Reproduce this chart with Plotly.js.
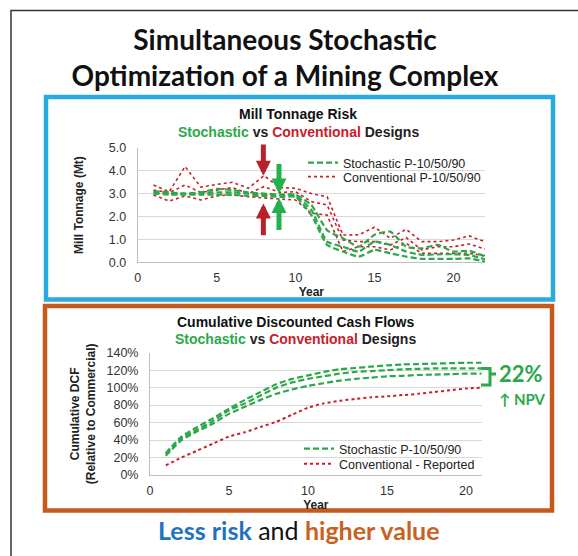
<!DOCTYPE html>
<html><head><meta charset="utf-8">
<script src="https://cdn.plot.ly/plotly-3.0.1.min.js"></script>
<style>html,body{margin:0;padding:0;background:#fff;} #chart{width:578px;height:556px;}</style>
</head><body><div id="chart"></div>
<script>
// ---------- Chart 1: Mill Tonnage Risk ----------
const years1 = [1,2,3,4,5,6,7,8,9,10,11,12,13,14,15,16,17,18,19,20,21,22];
const stochP90 = [3.10,3.05,3.00,3.05,3.20,3.15,3.05,3.00,2.95,2.95,2.50,1.40,1.05,0.68,1.20,1.34,0.68,0.61,0.76,0.47,0.50,0.25];
const stochP50 = [3.05,3.00,3.00,3.00,3.05,3.05,3.00,2.95,2.95,2.90,2.28,0.90,0.68,0.47,0.90,0.76,0.47,0.32,0.35,0.35,0.32,0.13];
const stochP10 = [3.00,2.95,2.95,2.95,2.95,2.95,2.90,2.90,2.85,2.85,2.06,0.76,0.47,0.25,0.54,0.39,0.25,0.15,0.15,0.15,0.17,0.03];
const convP90  = [3.37,3.08,4.18,3.28,3.40,3.49,3.23,3.78,3.26,3.23,3.00,2.86,1.19,1.20,1.53,1.05,1.44,0.90,0.90,0.97,1.15,0.90];
const convP50  = [3.15,3.04,3.37,3.05,3.15,3.26,3.00,3.30,3.05,3.08,2.65,2.50,0.97,0.90,0.90,0.75,1.08,0.54,0.68,0.68,0.80,0.58];
const convP10  = [2.94,2.67,2.90,2.72,2.90,2.94,2.86,2.80,2.76,2.72,2.14,2.06,0.47,0.68,0.68,0.54,0.83,0.39,0.39,0.39,0.39,0.29];
const yTicks1 = [0,1,2,3,4,5];
const xTicks1 = [0,5,10,15,20];

// ---------- Chart 2: Cumulative Discounted Cash Flows (%) ----------
const years2 = [1,2,3,4,5,6,7,8,9,10,11,12,13,14,15,16,17,18,19,20,21];
const dcfStochTop = [25,44,55,65,76,86,95,104,110,114,118,121,122.5,124,125.5,126.5,127,127.5,128,128.5,128.5];
const dcfStochMid = [24,42,52,62,74,82,91,100,106,110,113,116,118,119,120,121,121.5,122,122,122,122];
const dcfStochBot = [22,40,50,59,70,78,86,93,98,102,105,108,110,111.5,113,113.5,114.5,115,115.5,116,116];
const dcfConv     = [11,20,28,36,44,49,55,61,69,77,82,85,87,89,90,91.5,93,95,97,99,100];
const yTicks2 = [0,20,40,60,80,100,120,140];
const yTickText2 = yTicks2.map(v => v + '%');
const xTicks2 = [0,5,10,15,20];

// ---------- helpers / styles ----------
const W = 578, H = 556;
const px = v => v / W;
const py = v => 1 - v / H;
const GREEN = '#2BA84A', RED = '#C8202A', BLUE_BOX = '#29ABE2', ORANGE = '#C55A1C';
const AF = 'Liberation Sans, Arial, sans-serif';
const TF = 'Lato, Open Sans, sans-serif';
const GDASH = '6px,3px';

const g1 = (y, name, show) => ({x: years1, y, name, type:'scatter', mode:'lines', xaxis:'x', yaxis:'y',
  line:{color:GREEN, width:2.2, dash:GDASH, shape:'spline', smoothing:0.5}, showlegend:show, legend:'legend', hoverinfo:'skip'});
const r1 = (y, name, show) => ({x: years1, y, name, type:'scatter', mode:'lines', xaxis:'x', yaxis:'y',
  line:{color:RED, width:1.6, dash:'dot'}, showlegend:show, legend:'legend3', hoverinfo:'skip'});
const g2 = (y, name, show) => ({x: years2, y, name, type:'scatter', mode:'lines', xaxis:'x2', yaxis:'y2',
  line:{color:GREEN, width:2.2, dash:GDASH, shape:'spline', smoothing:0.6}, showlegend:show, legend:'legend2', hoverinfo:'skip'});

const traces = [
  r1(convP90,'Conventional P-10/50/90',true),
  r1(convP50,'Conventional P-10/50/90',false),
  r1(convP10,'Conventional P-10/50/90',false),
  g1(stochP90,'Stochastic P-10/50/90',true),
  g1(stochP50,'Stochastic P-10/50/90',false),
  g1(stochP10,'Stochastic P-10/50/90',false),
  g2(dcfStochTop,'Stochastic P-10/50/90',true),
  g2(dcfStochMid,'Stochastic P-10/50/90',false),
  g2(dcfStochBot,'Stochastic P-10/50/90',false),
  {x: years2, y: dcfConv, name:'Conventional - Reported', type:'scatter', mode:'lines', xaxis:'x2', yaxis:'y2',
   line:{color:RED, width:2, dash:'dot', shape:'spline', smoothing:0.6}, legend:'legend4', hoverinfo:'skip'}
];

const axBase = {showgrid:true, gridcolor:'#D9D9D9', gridwidth:1, zeroline:false, showline:true, linecolor:'#BFBFBF',
  linewidth:1, ticks:'', tickfont:{family:AF, size:12.5, color:'#333'}, automargin:false, fixedrange:true};

const legBase = (x, y) => ({x:px(x), xanchor:'left', y:py(y), yanchor:'middle', bgcolor:'rgba(0,0,0,0)',
  font:{family:AF, size:12.5, color:'#222'}, itemwidth:30, tracegroupgap:0});

const ann = (x, y, text, font) => ({xref:'paper', yref:'paper', x:px(x), y:py(y), xanchor:'center', yanchor:'middle',
  text, showarrow:false, font});

const arrow = (x, y, ax, ay, color) => ({xref:'x', yref:'y', axref:'x', ayref:'y', x, y, ax, ay, text:'', showarrow:true,
  arrowhead:2, arrowsize:0.6, arrowwidth:5, arrowcolor:color, standoff:0, startstandoff:0});

const layout = {
  width: W, height: H,
  margin:{l:0,r:0,t:0,b:0},
  paper_bgcolor:'#fff', plot_bgcolor:'#fff',
  title:{text:'<b>Simultaneous Stochastic<br>Optimization of a Mining Complex</b>', font:{family:TF, size:28, color:'#111'},
    x:px(285), xanchor:'center', yref:'container', y:py(50), yanchor:'middle'},
  xaxis: Object.assign({}, axBase, {domain:[px(137.7), px(485)], range:[0,22], tickvals:xTicks1, showgrid:false,
    title:{text:'<b>Year</b>', font:{family:AF, size:12, color:'#222'}, standoff:1}, anchor:'y', ticklabelstandoff:4}),
  yaxis: Object.assign({}, axBase, {domain:[py(262.3), py(147.7)], range:[0,5], tickvals:yTicks1, tickformat:'.1f',
    title:{text:'<b>Mill Tonnage (Mt)</b>', font:{family:AF, size:12, color:'#222'}, standoff:22}, anchor:'x', ticklabelstandoff:8}),
  xaxis2: Object.assign({}, axBase, {domain:[px(150), px(481.7)], range:[0,21], tickvals:xTicks2, showgrid:false,
    title:{text:'<b>Year</b>', font:{family:AF, size:12, color:'#222'}, standoff:0}, anchor:'y2', ticklabelstandoff:4}),
  yaxis2: Object.assign({}, axBase, {domain:[py(475), py(352.7)], range:[0,140], tickvals:yTicks2, ticktext:yTickText2,
    title:{text:'<b>Cumulative DCF<br>(Relative to Commercial)</b>', font:{family:AF, size:12, color:'#222'}, standoff:8}, anchor:'x2', ticklabelstandoff:8}),
  legend: legBase(303, 163),
  legend3: legBase(303, 177),
  legend2: legBase(299, 449),
  legend4: legBase(299, 464),
  shapes:[
    {type:'path', xref:'paper', yref:'paper', path:`M${px(11)},${py(556)} L${px(11)},${py(10.5)} L${px(578)},${py(10.5)}`,
     line:{color:'#333', width:1.5}},
    {type:'rect', xref:'paper', yref:'paper', x0:px(46), x1:px(553), y0:py(97), y1:py(299.5), line:{color:BLUE_BOX, width:4.5}},
    {type:'rect', xref:'paper', yref:'paper', x0:px(45), x1:px(552), y0:py(306), y1:py(510.5), line:{color:ORANGE, width:4.5}},
    {type:'path', xref:'paper', yref:'paper',
     path:`M${px(481)},${py(368.5)} L${px(490)},${py(368.5)} L${px(490)},${py(385)} L${px(481)},${py(385)} M${px(490)},${py(374)} L${px(496)},${py(374)}`,
     line:{color:GREEN, width:3}}
  ],
  annotations:[
    ann(298, 114, '<b>Mill Tonnage Risk</b>', {family:AF, size:14, color:'#111'}),
    ann(298, 132, `<b><span style="color:${GREEN}">Stochastic</span> vs <span style="color:${RED}">Conventional</span> Designs</b>`,
      {family:AF, size:14, color:'#222'}),
    ann(295, 322, '<b>Cumulative Discounted Cash Flows</b>', {family:AF, size:14, color:'#111'}),
    ann(295, 339, `<b><span style="color:${GREEN}">Stochastic</span> vs <span style="color:${RED}">Conventional</span> Designs</b>`,
      {family:AF, size:14, color:'#222'}),
    ann(521, 373, '<b>22%</b>', {family:TF, size:22, color:GREEN}),
    ann(522, 399, '<b>↑ NPV</b>', {family:TF, size:15, color:GREEN}),
    ann(299, 530, '<b><span style="color:#1F74C0">Less risk</span></b> and <b><span style="color:#C9611F">higher value</span></b>',
      {family:TF, size:25, color:'#111'}),
    // risk arrows
    arrow(7.96, 3.78, 7.96, 5.2, '#B8232B'),
    arrow(7.96, 2.57, 7.96, 1.12, '#B8232B'),
    arrow(8.95, 3.0, 8.95, 4.35, '#22B14C'),
    arrow(8.95, 2.8, 8.95, 1.34, '#22B14C')
  ]
};

Plotly.newPlot('chart', traces, layout, {staticPlot:true, displayModeBar:false});
</script>
</body></html>
